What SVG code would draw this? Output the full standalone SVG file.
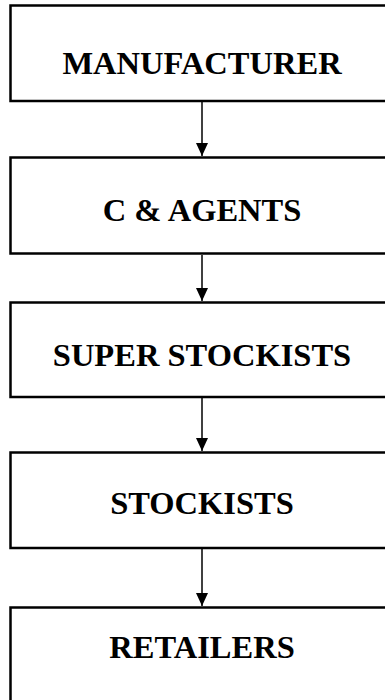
<svg xmlns="http://www.w3.org/2000/svg" width="385" height="700" viewBox="0 0 385 700">
  <style>
    .box { fill: #ffffff; stroke: #000000; stroke-width: 2.5; }
    .label { font-family: "Liberation Serif", "Times New Roman", serif; font-weight: bold; font-size: 32.5px; fill: #000000; text-anchor: middle; }
    .link { stroke: #000000; stroke-width: 1.5; fill: none; marker-end: url(#arrow); }
  </style>
  <defs>
    <!-- solid triangular head, tip at the end of the line -->
    <marker id="arrow" viewBox="0 0 13 12" refX="13" refY="6" markerWidth="13" markerHeight="12" markerUnits="userSpaceOnUse" orient="auto">
      <path d="M0,0 L13,6 L0,12 Z" fill="#000000"/>
    </marker>
  </defs>
  <rect width="385" height="700" fill="#ffffff"/>

  <g id="manufacturer">
    <rect class="box" x="10.5" y="5.5" width="390" height="95.5"/>
    <text class="label" x="202" y="74">MANUFACTURER</text>
  </g>
  <g id="c-agents">
    <rect class="box" x="10.5" y="157.5" width="390" height="96"/>
    <text class="label" x="202" y="221">C &amp; AGENTS</text>
  </g>
  <g id="super-stockists">
    <rect class="box" x="10.5" y="302.5" width="390" height="94.5"/>
    <text class="label" x="202" y="366">SUPER STOCKISTS</text>
  </g>
  <g id="stockists">
    <rect class="box" x="10.5" y="452.5" width="390" height="95.5"/>
    <text class="label" x="202" y="514">STOCKISTS</text>
  </g>
  <g id="retailers">
    <rect class="box" x="10.5" y="607.5" width="390" height="110"/>
    <text class="label" x="202" y="658">RETAILERS</text>
  </g>

  <g id="connectors">
    <line class="link" x1="202" y1="102" x2="202" y2="156"/>
    <line class="link" x1="202" y1="255" x2="202" y2="301"/>
    <line class="link" x1="202" y1="398" x2="202" y2="451"/>
    <line class="link" x1="202" y1="549" x2="202" y2="606"/>
  </g>
</svg>
